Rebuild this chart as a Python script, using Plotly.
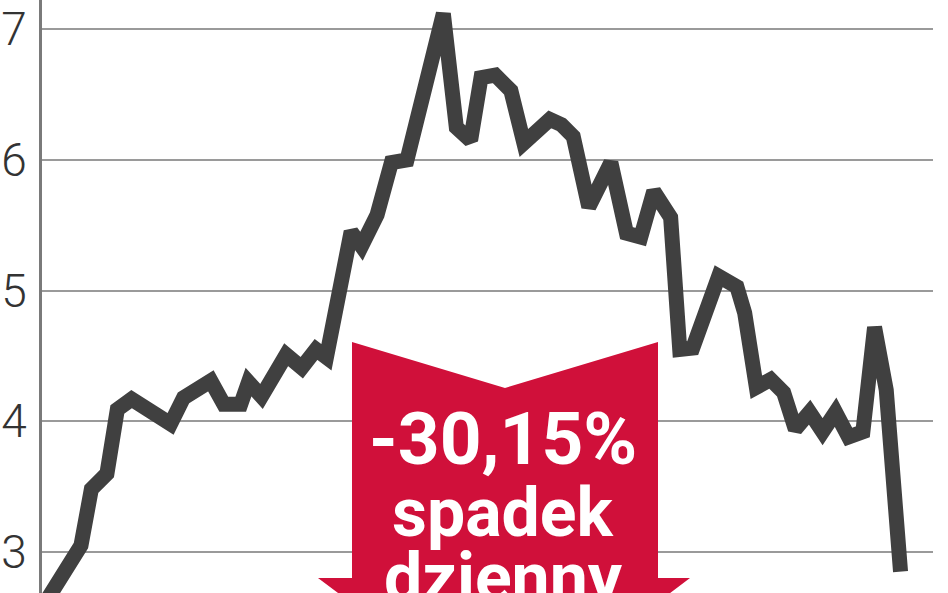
import plotly.graph_objects as go

# --- data ---
days = [0.0, 2.7, 3.5, 4.7, 5.5, 6.6, 9.6, 10.6, 12.7, 13.7, 15.0, 15.6, 16.6,
        18.5, 19.7, 20.8, 21.6, 23.5, 24.3, 25.5, 26.6, 27.8, 30.6, 31.6, 32.7,
        33.5, 34.6, 35.8, 36.8, 38.8, 39.7, 40.6, 41.8, 43.5, 44.7, 45.8, 46.8,
        48.1, 48.8, 49.8, 51.8, 53.2, 53.8, 54.7, 55.8, 56.8, 57.7, 58.8, 59.8,
        60.8, 61.8, 62.9, 63.8, 64.7, 65.8]
price = [2.62, 3.05, 3.48, 3.60, 4.09, 4.17, 3.98, 4.18, 4.31, 4.13, 4.13, 4.30, 4.19,
         4.51, 4.41, 4.55, 4.49, 5.45, 5.34, 5.58, 5.98, 6.00, 7.12, 6.25, 6.15,
         6.63, 6.65, 6.53, 6.13, 6.31, 6.27, 6.18, 5.64, 5.98, 5.44, 5.41, 5.76,
         5.56, 4.55, 4.56, 5.11, 5.03, 4.83, 4.26, 4.32, 4.22, 3.94, 4.07, 3.92,
         4.07, 3.88, 3.92, 4.72, 4.24, 2.85]
tick_vals = [3, 4, 5, 6, 7]
tick_text = ["3", "4", "5", "6", "7"]
label_lines = ["-30,15%", "spadek", "dzienny"]

W, H = 948, 593
L, R, T, B = 42, 15, 0, 0
PW = W - L - R


def px(xp):
    return (xp - L) / PW


def py(yp):
    return (H - yp) / H


fig = go.Figure()
fig.add_trace(go.Scatter(
    x=days, y=price, mode="lines",
    line=dict(color="#404040", width=15),
    hoverinfo="skip", showlegend=False, cliponaxis=True,
))

# red arrow
pts = [(352, 342), (505, 388), (658, 342), (658, 578), (690, 578),
       (505, 718), (318, 578), (352, 578)]
path = "M " + " L ".join(f"{px(a):.5f},{py(b):.5f}" for a, b in pts) + " Z"
fig.add_shape(type="path", path=path, xref="paper", yref="paper",
              fillcolor="#d0103a", line=dict(width=0), layer="above")

ys = [439, 513, 578]
sizes = [73, 68, 68]
for t, yy, s in zip(label_lines, ys, sizes):
    fig.add_annotation(text=t, x=px(503), y=py(yy), xref="paper", yref="paper",
                       showarrow=False, xanchor="center", yanchor="middle",
                       font=dict(family="Roboto", size=s, color="white", weight=700))

fig.update_layout(
    width=W, height=H,
    margin=dict(l=L, r=R, t=T, b=B, autoexpand=False),
    paper_bgcolor="white", plot_bgcolor="white",
    showlegend=False,
    xaxis=dict(range=[-0.3, 68.3], visible=False, fixedrange=True, automargin=False),
    yaxis=dict(range=[2.686, 7.224], tickvals=tick_vals, ticktext=tick_text,
               automargin=False, fixedrange=True,
               showgrid=True, gridcolor="#9a9a9a", gridwidth=2,
               zeroline=False, showline=True, linecolor="#7a7a7a", linewidth=3,
               ticks="", ticklabelstandoff=3,
               tickfont=dict(family="Roboto", size=46, color="#333333", weight=300)),
)

fig.write_html("out.html", config={"displayModeBar": False},
               post_script="document.body.style.margin='0';document.body.style.padding='0';")
